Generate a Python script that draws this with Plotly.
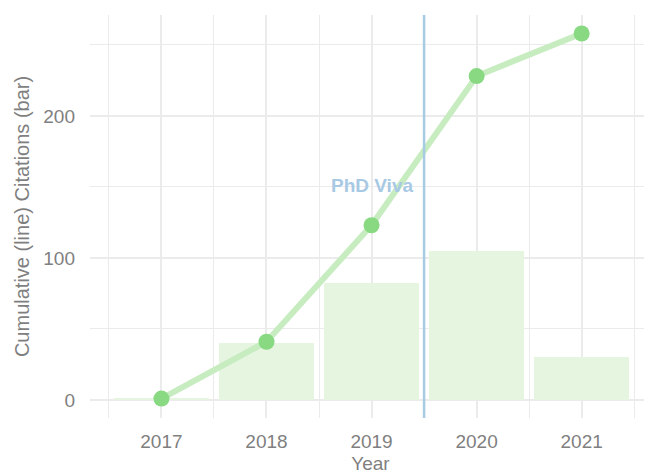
import plotly.graph_objects as go

years = [2017, 2018, 2019, 2020, 2021]
citations = [1, 40, 82, 105, 30]
cumulative = [1, 41, 123, 228, 258]
viva_year = 2019.5
viva_label = "PhD Viva"
viva_label_pos = (2019, 151)

fig = go.Figure()
fig.add_trace(go.Bar(x=years, y=citations, width=0.9, marker=dict(color="#e5f5e0", line=dict(width=0)),
                     showlegend=False))
fig.add_trace(go.Scatter(x=years, y=cumulative, mode="lines", line=dict(color="#c6ecc0", width=6),
                         showlegend=False))
fig.add_trace(go.Scatter(x=years, y=cumulative, mode="markers", marker=dict(color="#88d982", size=16),
                         showlegend=False))
fig.add_shape(type="line", x0=viva_year, x1=viva_year, y0=0, y1=1, yref="paper",
              line=dict(color="#a6cbe3", width=2.5))
fig.add_annotation(x=viva_label_pos[0], y=viva_label_pos[1], text="<b>" + viva_label + "</b>",
                   showarrow=False, font=dict(color="#a8c9e4", size=19))

font = "Liberation Sans, Arial, sans-serif"
fig.update_layout(
    width=652, height=475,
    margin=dict(l=82, r=9, t=7, b=65),
    paper_bgcolor="white", plot_bgcolor="white",
    font=dict(family=font, color="#7f7f7f", size=19),
    bargap=0,
    xaxis=dict(range=[2016.32, 2021.66], tickvals=years, ticktext=[str(y) for y in years],
               showgrid=True, gridcolor="#ebebeb", gridwidth=2, zeroline=False, showline=False,
               ticks="", ticklabelstandoff=10, automargin=False,
               tickfont=dict(size=19, color="#7f7f7f"),
               minor=dict(tickvals=[2016.5, 2017.5, 2018.5, 2019.5, 2020.5, 2021.5], showgrid=True,
                          gridcolor="#ebebeb", gridwidth=1),
               title=dict(text="Year", font=dict(size=19, color="#7f7f7f"), standoff=5)),
    yaxis=dict(range=[-12.7, 271], tickvals=[0, 100, 200], showgrid=True, gridcolor="#ebebeb",
               gridwidth=2, zeroline=False, showline=False, ticks="", ticklabelstandoff=14,
               automargin=False, tickfont=dict(size=19, color="#7f7f7f"),
               minor=dict(tickvals=[50, 150, 250], showgrid=True, gridcolor="#ebebeb", gridwidth=1),
               title=dict(text="Cumulative (line) Citations (bar)", font=dict(size=20, color="#7f7f7f"),
                          standoff=8)),
)
fig.write_html("out.html")
